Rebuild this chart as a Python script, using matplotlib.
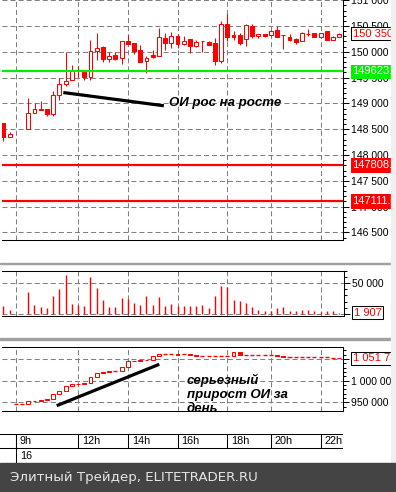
import numpy as np
import matplotlib
matplotlib.use("Agg")
import matplotlib.pyplot as plt
import matplotlib.transforms as mtransforms
from matplotlib.patches import Rectangle
from matplotlib.ticker import MultipleLocator, FixedLocator, FuncFormatter

plt.rcParams['font.family'] = ['Liberation Sans', 'DejaVu Sans']
plt.rcParams['lines.scale_dashes'] = False

nan = np.nan

# 15-min candles, index 0..54 (2 and 3 are the empty slots at day start)
opens = [148623, 148341, nan, nan, 148495, 148824, 148901, 148888, 148797, 149172,
         149385, 149462, 149630, 149623, 149513, 150015, 150087, 149868, 149932, 149880,
         150203, 150170, 150029, 149830, 149932, 149926, 150261, 150170, 150300, 150159,
         150242, 150112, 150203, 150190, 150164, 149816, 150532, 150333, 150325, 150255,
         150499, 150300, 150352, 150325, 150416, 150319, 150280, 150242, 150217, 150352,
         150358, 150293, 150396, 150236, 150293]
highs = [148623, 148443, nan, nan, 149114, 149018, 149049, 148888, 149236, 149501,
         149996, 149752, 149720, 149623, 150236, 150358, 150106, 149996, 149990, 150217,
         150325, 150170, 150139, 149927, 150029, 150454, 150371, 150377, 150352, 150300,
         150242, 150222, 150203, 150209, 150275, 150590, 150725, 150396, 150371, 150545,
         150538, 150352, 150352, 150429, 150507, 150332, 150338, 150267, 150383, 150449,
         150358, 150371, 150396, 150313, 150364]
lows = [148275, 148341, nan, nan, 148495, 148824, 148874, 148753, 148758, 149062,
        149346, 149462, 149513, 149462, 149462, 149849, 149803, 149797, 149836, 149772,
        150145, 149965, 149803, 149590, 149888, 149926, 150035, 150073, 150073, 150131,
        149977, 150093, 149996, 150131, 149739, 149783, 150209, 150236, 150131, 150106,
        150275, 150275, 150280, 150300, 150286, 150048, 150203, 150151, 150217, 150306,
        150286, 150293, 150236, 150236, 150293]
closes = [148352, 148410, nan, nan, 148824, 148901, 148874, 148791, 149172, 149385,
          149443, 149642, 149630, 149513, 150015, 150081, 149868, 149927, 149855, 150217,
          150145, 150015, 149803, 149888, 149899, 150280, 150170, 150300, 150159, 150217,
          150106, 150197, 150203, 150131, 149816, 150545, 150286, 150286, 150170, 150513,
          150300, 150352, 150306, 150410, 150286, 150319, 150236, 150197, 150364, 150352,
          150286, 150371, 150236, 150294, 150350]

volume = [12800, 6200, 0, 0, 35700, 14900, 11100, 9500, 29700, 40600,
          63600, 16600, 14400, 13300, 60300, 42300, 22600, 11100, 11100, 25900,
          24300, 17700, 14900, 29200, 14400, 27500, 12800, 16100, 13300, 12800,
          13300, 13300, 14400, 9500, 29700, 45600, 43900, 22600, 21000, 17700,
          11100, 6200, 4600, 4600, 9500, 11100, 4600, 4600, 6200, 6200,
          4600, 3000, 4600, 4600, 1907]

open_interest = [nan, nan, 946200, 946200, 952400, 953800, 954700, 957000, 968600, 975500,
                 987800, 991700, 993100, 995400, 1009200, 1017100, 1019400, 1021700, 1022400, 1032300,
                 1044800, 1046200, 1047100, 1048500, 1057100, 1061000, 1061300, 1061500, 1060100, 1060600,
                 1058700, 1057500, 1057800, 1057400, 1057000, 1057300, 1057800, 1065600, 1059400, 1059200,
                 1059000, 1059100, 1058800, 1058500, 1057000, 1055000, 1055000, 1054800, 1054600, 1054400,
                 1054200, 1054000, 1053800, 1053500, 1051730]

levels_green = [149623.0]
levels_red = [147808.0, 147111.0]

hour_ticks = [2, 12, 20, 28, 36, 43, 51]
hour_labels = ['9h', '12h', '14h', '16h', '18h', '20h', '22h']
day_label = '16'

# hand-drawn notes
note1_x = [9.63, 25.8]
note1_y = [149211, 148955]
note1_text = 'ОИ рос на росте'
note2_x = [8.57, 25.06]
note2_y = [942250, 1037900]
note2_text = 'серьезный\nприрост ОИ за\nдень'

RED = '#ff0000'
GREEN = '#00f000'
GRID = '#808080'

W, H = 396, 492
fig = plt.figure(figsize=(W / 100, H / 100), dpi=100)
fig.patch.set_facecolor('white')

X0, STEP = 3.4, 6.22  # pixel position of bar 0 and bar spacing


def frame(l, t, r, b):
    return [l / W, 1 - b / H, (r - l) / W, (b - t) / H]


def xlim_px(ax, l, r):
    ax.set_xlim((l - X0) / STEP, (r - X0) / STEP)


def spaced(v, pos=None):
    return f"{int(round(v)):,}".replace(",", " ")


idx = np.arange(len(closes))
o = np.array(opens, float)
h = np.array(highs, float)
lo = np.array(lows, float)
c = np.array(closes, float)

ax_p = fig.add_axes(frame(2, 0, 343, 240))
ax_v = fig.add_axes(frame(2, 270.7, 344, 316))
ax_o = fig.add_axes(frame(2, 346.7, 343, 410.7))
ax_t = fig.add_axes(frame(0, 434, 343, 463))

xlim_px(ax_p, 2, 343)
xlim_px(ax_v, 2, 344)
xlim_px(ax_o, 2, 343)
xlim_px(ax_t, 0, 343)

ax_p.set_ylim(146354, 151004)
ax_v.set_ylim(-3600, 70640)
ax_o.set_ylim(930700, 1078540)

for ax in (ax_p, ax_v, ax_o):
    ax.set_facecolor('white')
    ax.yaxis.tick_right()
    ax.set_xticks(hour_ticks)
    ax.tick_params(axis='x', length=0, labelbottom=False)
    ax.tick_params(axis='y', which='major', direction='out', length=4.3, width=0.75,
                   labelsize=7.5, pad=1.2)
    ax.tick_params(axis='y', which='minor', direction='out', length=2.4, width=0.75)
    ax.yaxis.set_major_formatter(FuncFormatter(spaced))
    ax.grid(True, which='major', color=GRID, lw=0.75, linestyle=(0, (3.6, 2.2)))
    ax.set_axisbelow(True)
    for s in ax.spines.values():
        s.set_linewidth(0.75)
    ax.spines['left'].set_visible(False)

ax_p.spines['top'].set_visible(False)

# price panel
ax_p.yaxis.set_major_locator(MultipleLocator(500))
ax_p.yaxis.set_minor_locator(MultipleLocator(100))
m = ~np.isnan(c)
ax_p.vlines(idx[m], lo[m], h[m], color=RED, lw=0.75, zorder=2)
body_lo = np.minimum(o, c)
body_h = np.abs(c - o)
up = m & (c >= o)
dn = m & (c < o)
ax_p.bar(idx[up], body_h[up], 0.62, body_lo[up], facecolor='white', edgecolor=RED, lw=0.75, zorder=3)
ax_p.bar(idx[dn], body_h[dn], 0.62, body_lo[dn], facecolor=RED, edgecolor=RED, lw=0.75, zorder=3)

for lv in levels_green:
    ax_p.axhline(lv, color=GREEN, lw=1.6, zorder=4)
for lv in levels_red:
    ax_p.axhline(lv, color=RED, lw=1.6, zorder=4)

ax_p.plot(note1_x, note1_y, color='black', lw=2.3, solid_capstyle='butt', zorder=5)
ax_p.text(26.6, 149004, note1_text, fontsize=9.5, fontweight='bold', fontstyle='italic',
          va='center', ha='left', zorder=6)

box_x = 0.028


def side_label(ax, y, text, fg, bg, ec):
    tr = mtransforms.blended_transform_factory(ax.transAxes, ax.transData)
    ax.text(1 + box_x, y, text, transform=tr, color=fg, fontsize=8, va='center', ha='left',
            clip_on=False, zorder=8,
            bbox=dict(boxstyle='square,pad=0.15', fc=bg, ec=ec, lw=0.75))


side_label(ax_p, closes[-1], spaced(closes[-1]), RED, 'white', 'black')
for lv in levels_green:
    side_label(ax_p, lv, f"{lv:.1f}", 'white', GREEN, GREEN)
for lv in levels_red:
    side_label(ax_p, lv, f"{lv:.1f}", 'white', RED, RED)

# volume panel
ax_v.yaxis.set_major_locator(FixedLocator([0, 50000]))
ax_v.yaxis.set_minor_locator(MultipleLocator(10000))
ax_v.yaxis.set_major_formatter(FuncFormatter(lambda v, p: '' if v == 0 else spaced(v)))
vol = np.array(volume, float)
vm = vol > 0
ax_v.vlines(idx[vm], 0, vol[vm], color=RED, lw=1.0, zorder=3)
side_label(ax_v, volume[-1], spaced(volume[-1]), RED, 'white', 'black')

# open interest panel
ax_o.yaxis.set_major_locator(MultipleLocator(50000))
ax_o.yaxis.set_minor_locator(MultipleLocator(10000))
oi = np.array(open_interest, float)
oi_open = np.concatenate([[nan], oi[:-1]])
oi_open = np.where(np.isnan(oi_open), oi, oi_open)
om = ~np.isnan(oi)
oi_lo = np.minimum(oi_open, oi)
oi_h = np.abs(oi - oi_open)
oup = om & (oi > oi_open + 800)
odn = om & (oi < oi_open - 800)
oflat = om & ~oup & ~odn
ax_o.bar(idx[oup], oi_h[oup], 0.62, oi_lo[oup], facecolor='white', edgecolor=RED, lw=0.75, zorder=3)
ax_o.bar(idx[odn], oi_h[odn], 0.62, oi_lo[odn], facecolor=RED, edgecolor=RED, lw=0.75, zorder=3)
ax_o.hlines(oi[oflat], idx[oflat] - 0.33, idx[oflat] + 0.33, color=RED, lw=1.0, zorder=3)
side_label(ax_o, open_interest[-1], spaced(open_interest[-1]), RED, 'white', 'black')

ax_o.plot(note2_x, note2_y, color='black', lw=2.3, solid_capstyle='butt', zorder=5)
ax_o.text(29.5, 968600, note2_text, fontsize=9.5, fontweight='bold', fontstyle='italic',
          va='center', ha='left', linespacing=1.25, clip_on=False, zorder=6)

# time axis row
ax_t.set_ylim(0, 1)
ax_t.axis('off')
mid = 0.517
ax_t.axhline(1, color='black', lw=0.75)
ax_t.axhline(mid, color='black', lw=0.75)
ax_t.vlines(hour_ticks, mid, 1, color='black', lw=0.75)
ax_t.vlines(hour_ticks[0], 0, 1, color='black', lw=0.75)
ax_t.vlines(ax_t.get_xlim()[1] - 0.05, mid, 1, color='black', lw=0.75)
for t, lab in zip(hour_ticks, hour_labels):
    ax_t.text(t + 0.65, 0.77, lab, fontsize=7.8, va='center', ha='left')
ax_t.text(hour_ticks[0] + 0.65, 0.25, day_label, fontsize=7.8, va='center', ha='left')

# panel separators, right strip and footer
for y in (263.3, 339.0):
    fig.patches.append(Rectangle((0, 1 - (y + 0.8) / H), 391 / W, 1.6 / H,
                                 transform=fig.transFigure, color='#a0a0a0', zorder=9))
fig.patches.append(Rectangle((391 / W, 29 / H), 5 / W, 1 - 29 / H,
                             transform=fig.transFigure, color='#f0f0f0', zorder=10))
fig.patches.append(Rectangle((0, 0), 1, 29 / H, transform=fig.transFigure,
                             color='#444444', zorder=10))
fig.text(10 / W, 14.5 / H, 'Элитный Трейдер, ELITETRADER.RU', color='#e6e6e6',
         fontsize=9.6, family='DejaVu Sans', va='center', ha='left', zorder=11)

fig.savefig('out.png', dpi=100)
